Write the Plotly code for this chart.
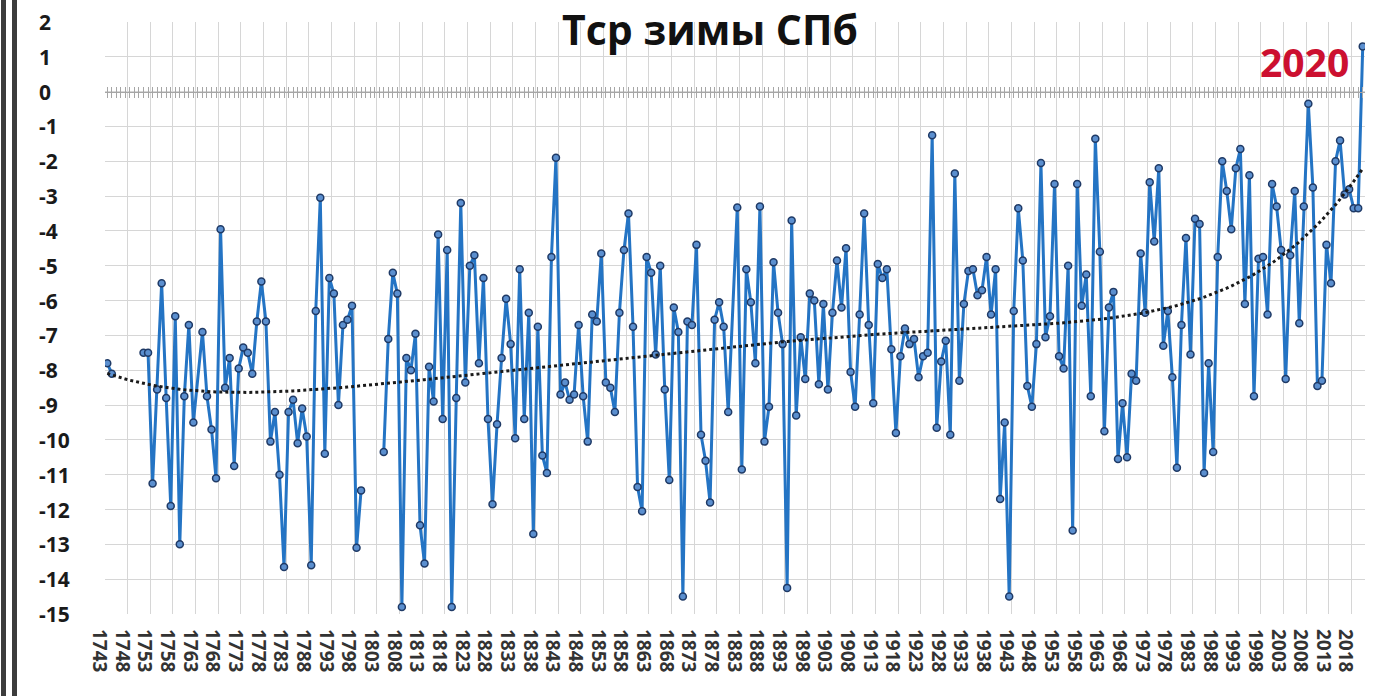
import numpy as np
import plotly.graph_objects as go

# ---------------- data ----------------
years = list(range(1743, 1763)) + list(range(1764, 1881)) + list(range(1882, 2021))

temps_a = [-7.8, -8.1, None, None, None, None, None, None, -7.5, -7.5,
           -11.25, -8.55, -5.5, -8.8, -11.9, -6.45, -13.0, -8.75, -6.7, -9.5]

temps_b = [-6.9, -8.75, -9.7, -11.1, -3.95, -8.5, -7.65, -10.75, -7.95, -7.35,
           -7.5, -8.1, -6.6, -5.45, -6.6, -10.05, -9.2, -11.0, -13.65, -9.2,
           -8.85, -10.1, -9.1, -9.9, -13.6, -6.3, -3.05, -10.4, -5.35, -5.8,
           -9.0, -6.7, -6.55, -6.15, -13.1, -11.45, None, None, None, None,
           -10.35, -7.1, -5.2, -5.8, -14.8, -7.65, -8.0, -6.95, -12.45, -13.55,
           -7.9, -8.9, -4.1, -9.4, -4.55, -14.8, -8.8, -3.2, -8.35, -5.0,
           -4.7, -7.8, -5.35, -9.4, -11.85, -9.55, -7.65, -5.95, -7.25, -9.95,
           -5.1, -9.4, -6.35, -12.7, -6.75, -10.45, -10.95, -4.75, -1.9, -8.7,
           -8.35, -8.85, -8.7, -6.7, -8.75, -10.05, -6.4, -6.6, -4.65, -8.35,
           -8.5, -9.2, -6.35, -4.55, -3.5, -6.75, -11.35, -12.05, -4.75, -5.2,
           -7.55, -5.0, -8.55, -11.15, -6.2, -6.9, -14.5, -6.6, -6.7, -4.4,
           -9.85, -10.6, -11.8, -6.55, -6.05, -6.75, -9.2]

temps_c = [-3.33, -10.85, -5.1, -6.05, -7.8, -3.3, -10.05, -9.05, -4.9, -6.35,
           -7.25, -14.25, -3.7, -9.3, -7.05, -8.25, -5.8, -6.0, -8.4, -6.1,
           -8.55, -6.35, -4.85, -6.2, -4.5, -8.05, -9.05, -6.4, -3.5, -6.7,
           -8.95, -4.95, -5.35, -5.1, -7.4, -9.8, -7.6, -6.8, -7.25, -7.1,
           -8.2, -7.6, -7.5, -1.25, -9.65, -7.75, -7.15, -9.85, -2.35, -8.3,
           -6.1, -5.15, -5.1, -5.85, -5.7, -4.75, -6.4, -5.1, -11.7, -9.5,
           -14.5, -6.3, -3.35, -4.85, -8.45, -9.05, -7.25, -2.05, -7.05, -6.45,
           -2.65, -7.6, -7.95, -5.0, -12.6, -2.65, -6.15, -5.25, -8.75, -1.35,
           -4.6, -9.75, -6.2, -5.75, -10.55, -8.95, -10.5, -8.1, -8.3, -4.65,
           -6.35, -2.6, -4.3, -2.2, -7.3, -6.3, -8.2, -10.8, -6.7, -4.2,
           -7.55, -3.65, -3.8, -10.95, -7.8, -10.35, -4.75, -2.0, -2.85, -3.95,
           -2.2, -1.65, -6.1, -2.4, -8.75, -4.8, -4.75, -6.4, -2.65, -3.3,
           -4.55, -8.25, -4.7, -2.85, -6.65, -3.3, -0.35, -2.75, -8.45, -8.3,
           -4.4, -5.5, -2.0, -1.4, -2.95, -2.8, -3.35, -3.35, 1.3]

temps = temps_a + temps_b + temps_c

label_years = list(range(1743, 2019, 5))
y_ticks = list(range(2, -16, -1))
y_ticktext = [str(v) if v >= 0 else "-" + str(-v) for v in y_ticks]

title_text = "Тср зимы СПб"
note_text = "2020"

# ---------------- geometry helpers ----------------
W, H = 1389, 696
ML, MR, MT, MB = 105, 24, 22, 82
PW, PH = W - ML - MR, H - MT - MB
YMIN, YMAX = -15, 2
XMIN, XMAX = years[0] - 0.5, years[-1] + 0.5


def px_x(p):
    return (p - ML) / PW


def px_y(p):
    return (H - MB - p) / PH


# ---------------- trend (polynomial, computed from data) ----------------
xv = np.array([y for y, t in zip(years, temps) if t is not None], dtype=float)
tv = np.array([t for t in temps if t is not None], dtype=float)
xs = (xv - 1880.0) / 100.0
coef = np.polyfit(xs, tv, 6)
trend_x = np.arange(years[0], years[-1] + 1)
trend_y = np.polyval(coef, (trend_x - 1880.0) / 100.0)

FONT = "Open Sans"

fig = go.Figure()
fig.add_trace(go.Scatter(
    x=years, y=temps, mode="lines+markers", connectgaps=False,
    line=dict(color="#2474c4", width=3),
    marker=dict(size=7, color="#5b8fcf", line=dict(color="#1f3a66", width=1.5)),
    hoverinfo="x+y", showlegend=False))
fig.add_trace(go.Scatter(
    x=trend_x, y=trend_y, mode="lines",
    line=dict(color="#1a1a1a", width=3, dash="dot"),
    hoverinfo="skip", showlegend=False))
# dummy traces so the zero-line tick axes get drawn
for ax in ("x2", "x3"):
    fig.add_trace(go.Scatter(x=[years[0]], y=[temps[0]], xaxis=ax, mode="markers",
                             marker=dict(opacity=0), hoverinfo="skip", showlegend=False))

zero_pos = (0 - YMIN) / (YMAX - YMIN)
common_zero = dict(range=[XMIN, XMAX], overlaying="x", anchor="free", position=zero_pos,
                   tickmode="linear", tick0=years[0], dtick=1, ticklen=5, tickwidth=1,
                   tickcolor="#a6a6a6", showticklabels=False, showgrid=False, zeroline=False,
                   showline=True, linecolor="#a6a6a6", linewidth=1, side="bottom",
                   automargin=False)

fig.update_layout(
    width=W, height=H,
    margin=dict(l=ML, r=MR, t=MT, b=MB, pad=0, autoexpand=False),
    paper_bgcolor="white", plot_bgcolor="white",
    showlegend=False,
    xaxis=dict(range=[XMIN, XMAX], tickmode="array", tickvals=label_years,
               ticktext=[str(v) for v in label_years], tickangle=90,
               tickfont=dict(family=FONT, size=19, color="#333333", weight="bold"),
               ticks="", showgrid=False, zeroline=False, showline=False,
               ticklabelstandoff=14, ticklabelshift=-8, automargin=False,
               minor=dict(tickmode="linear", tick0=XMIN, dtick=5, showgrid=True,
                          gridcolor="#d6d6d6", gridwidth=1, ticks="")),
    xaxis2=dict(ticks="outside", **common_zero),
    xaxis3=dict(ticks="inside", **common_zero),
    yaxis=dict(range=[YMIN, YMAX], tickmode="linear", tick0=YMIN, dtick=1,
               showgrid=True, gridcolor="#d6d6d6", gridwidth=1, zeroline=False,
               showticklabels=False, showline=False, ticks="", automargin=False),
)

# left-aligned y tick labels
for v, t in zip(y_ticks, y_ticktext):
    fig.add_annotation(x=px_x(37), xref="paper", y=v, yref="y", text=t, showarrow=False,
                       xanchor="left", yanchor="middle",
                       font=dict(family=FONT, size=21, color="#1a1a1a", weight="bold"))

fig.add_annotation(x=px_x(710), xref="paper", y=px_y(29), yref="paper", text=title_text,
                   showarrow=False, xanchor="center", yanchor="middle",
                   font=dict(family=FONT, size=41, color="#111111", weight="bold"))
fig.add_annotation(x=px_x(1351), xref="paper", y=px_y(62), yref="paper", text=note_text,
                   showarrow=False, xanchor="right", yanchor="middle",
                   font=dict(family=FONT, size=39, color="#cc1030", weight="bold"))

# dark double frame bar at the left edge
for x0, x1 in ((1, 6), (12, 17)):
    fig.add_shape(type="rect", xref="paper", yref="paper",
                  x0=px_x(x0), x1=px_x(x1), y0=px_y(H), y1=px_y(0),
                  fillcolor="#3c3c3c", line=dict(width=0), layer="above")

fig.write_html("out.html", config={"displayModeBar": False},
               post_script="document.body.style.margin='0px';")
